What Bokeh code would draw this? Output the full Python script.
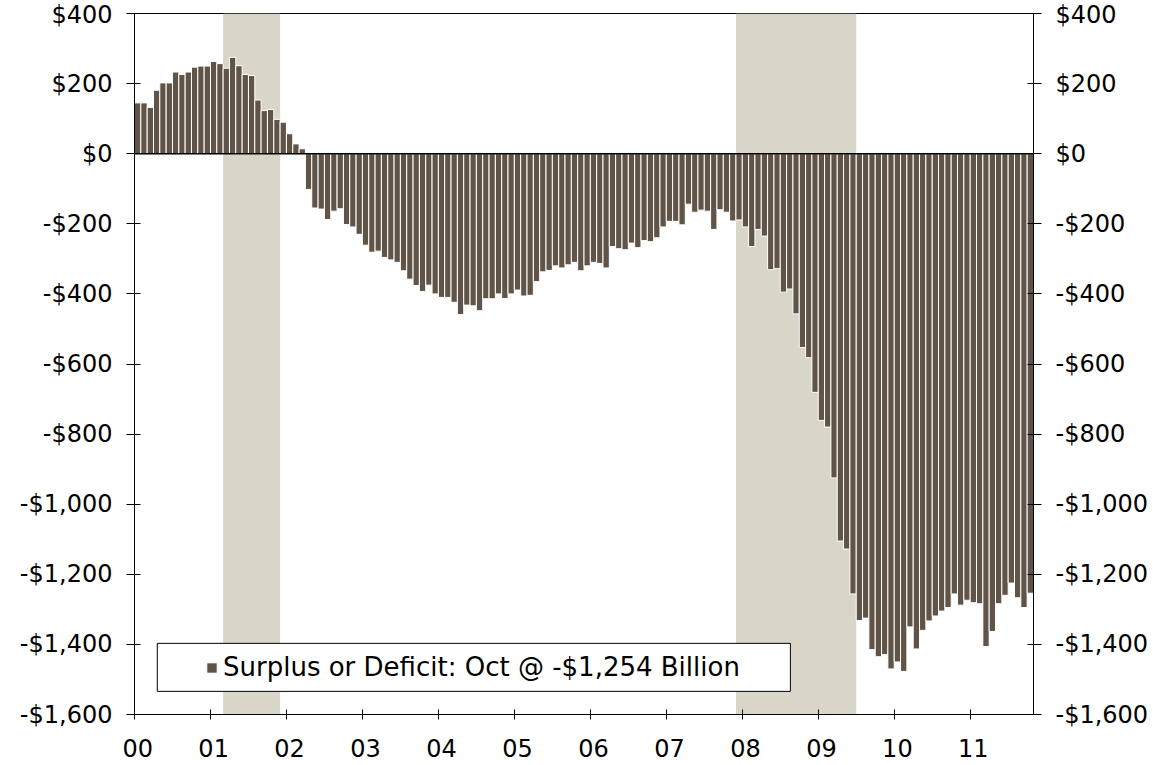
from bokeh.plotting import figure
from bokeh.models import (Range1d, LinearAxis, FixedTicker, BoxAnnotation, Span,
                          Legend, LegendItem, ColumnDataSource)
from bokeh.embed import file_html
from bokeh.resources import INLINE

# ---- data -------------------------------------------------------------
# month index since Jan 2000 (0 = Jan 2000 ... 141 = Oct 2011)
months = list(range(142))
# 12-month rolling federal surplus / deficit, $ billions
deficit = [
    145, 145, 132, 181, 202, 202, 233, 226, 233, 247, 250, 250,
    263, 257, 244, 275, 251, 226, 223, 153, 123, 126, 98, 90,
    57, 28, 14, -102, -155, -158, -188, -164, -157, -202, -209, -230,
    -261, -281, -278, -296, -303, -310, -334, -358, -376, -393, -375, -400,
    -410, -410, -424, -459, -432, -434, -448, -414, -414, -400, -413, -400,
    -389, -406, -404, -365, -337, -333, -320, -326, -317, -310, -334, -320,
    -310, -313, -326, -265, -271, -274, -255, -268, -248, -251, -240, -209,
    -193, -193, -203, -144, -167, -161, -164, -216, -160, -167, -192, -189,
    -209, -265, -216, -235, -331, -328, -395, -386, -457, -553, -582, -681,
    -761, -780, -925, -1105, -1128, -1256, -1332, -1325, -1415, -1435, -1429, -1470,
    -1450, -1477, -1350, -1413, -1360, -1333, -1319, -1305, -1295, -1256, -1288, -1274,
    -1281, -1284, -1406, -1363, -1284, -1260, -1225, -1267, -1295, -1254,
]
year_labels = ["00", "01", "02", "03", "04", "05", "06", "07", "08", "09", "10", "11"]
year_jan_months = [0, 12, 24, 36, 48, 60, 72, 84, 96, 108, 120, 132]
y_ticks = [400, 200, 0, -200, -400, -600, -800, -1000, -1200, -1400, -1600]
y_labels = ["$400", "$200", "$0", "-$200", "-$400", "-$600", "-$800",
            "-$1,000", "-$1,200", "-$1,400", "-$1,600"]
# recessions (first month index, last month index)
rec_first = [14, 95]   # Mar 2001, Dec 2007
rec_last = [22, 113]   # Nov 2001, Jun 2009
legend_label = "Surplus or Deficit: Oct @ -$1,254 Billion"

BAR = "#5f5447"
SHADE = "#d9d5c9"
FONT = "DejaVu Sans"
FS = "24px"

p = figure(width=1152, height=764,
           x_range=Range1d(-0.5, len(months) - 0.5),
           y_range=Range1d(min(y_ticks), max(y_ticks)),
           output_backend="svg", toolbar_location=None,
           min_border_left=134, min_border_top=13,
           min_border_right=119, min_border_bottom=50)
p.grid.visible = False
p.outline_line_color = "black"
p.outline_line_width = 1
p.background_fill_color = "white"
p.border_fill_color = "white"

# recession shading
p.quad(left=[a - 0.5 for a in rec_first], right=[b + 0.5 for b in rec_last],
       bottom=min(y_ticks), top=max(y_ticks),
       fill_color=SHADE, line_color=None)

src = ColumnDataSource(dict(x=months, top=deficit))
bars = p.vbar(x="x", top="top", bottom=0, width=1.0, source=src,
              fill_color=BAR, line_color="white", line_width=1)

p.add_layout(Span(location=0, dimension="width", line_color="black", line_width=1.5))

# ---- axes -------------------------------------------------------------
xa = p.xaxis[0]
xa.ticker = FixedTicker(ticks=year_jan_months,
                        minor_ticks=[m - 0.5 for m in year_jan_months])
xa.major_label_overrides = {m: l for m, l in zip(year_jan_months, year_labels)}
xa.major_tick_in = 0
xa.major_tick_out = 0
xa.minor_tick_in = 5
xa.minor_tick_out = 5
xa.minor_tick_line_color = "black"
xa.axis_line_color = "black"
xa.major_label_standoff = 19
xa.major_label_text_font = FONT
xa.major_label_text_font_size = FS
xa.major_label_text_color = "black"


def style_y(ax):
    ax.ticker = FixedTicker(ticks=y_ticks)
    ax.major_label_overrides = {t: l for t, l in zip(y_ticks, y_labels)}
    ax.major_tick_in = 6
    ax.major_tick_out = 8
    ax.minor_tick_line_color = None
    ax.axis_line_color = "black"
    ax.major_tick_line_color = "black"
    ax.major_label_standoff = 14
    ax.major_label_text_font = FONT
    ax.major_label_text_font_size = FS
    ax.major_label_text_color = "black"


style_y(p.yaxis[0])
ra = LinearAxis()
style_y(ra)
p.add_layout(ra, "right")

# ---- legend -----------------------------------------------------------
p.add_layout(BoxAnnotation(left=3.1, right=103.1, top=-1397, bottom=-1534,
                           fill_color="white", fill_alpha=1.0,
                           line_color="black", line_width=1, line_alpha=1.0))
legend = Legend(items=[LegendItem(label=legend_label, renderers=[bars])],
                location=(71, 32), padding=0, margin=0,
                border_line_alpha=0, background_fill_alpha=0,
                label_text_font=FONT, label_text_font_size="26px",
                label_text_color="black",
                glyph_width=13, glyph_height=13, label_standoff=5)
p.add_layout(legend, "center")

open("out.html", "w").write(file_html(p, INLINE))
